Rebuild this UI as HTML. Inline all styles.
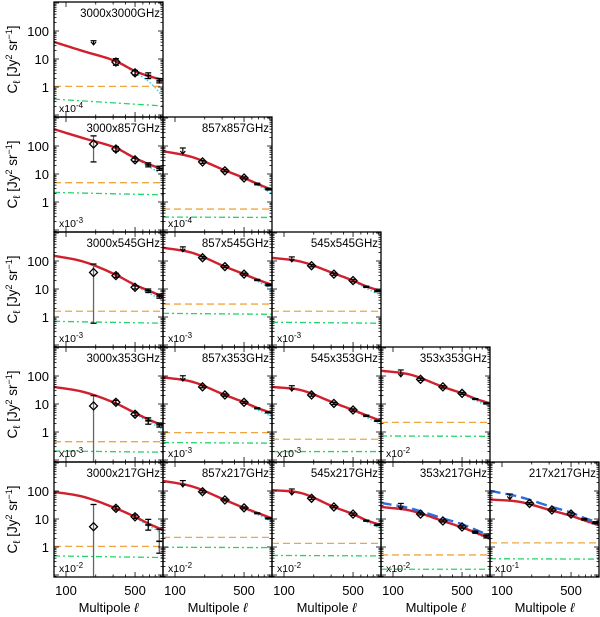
<!DOCTYPE html>
<html><head><meta charset="utf-8">
<style>
html,body{margin:0;padding:0;background:#fff;}
svg{display:block;font-family:"Liberation Sans",sans-serif;}
</style></head>
<body>
<svg id="chart" width="600" height="617" viewBox="0 0 600 617" xmlns="http://www.w3.org/2000/svg"></svg>
<script>
// ---- data ----
const modelEll = [75,150,320,500,700,960];
const pointEll = [120,190,320,500,680,880];
const panelNames = ["3000x3000GHz","3000x857GHz","857x857GHz","3000x545GHz","857x545GHz","545x545GHz","3000x353GHz","857x353GHz","545x353GHz","353x353GHz","3000x217GHz","857x217GHz","545x217GHz","353x217GHz","217x217GHz"];
const panelRow = [0,1,1,2,2,2,3,3,3,3,4,4,4,4,4];
const panelCol = [0,0,1,0,1,2,0,1,2,3,0,1,2,3,4];
const panelExp = ["-4","-3","-4","-3","-3","-3","-3","-3","-3","-2","-2","-2","-2","-2","-1"];
const totalModel = [
 [41,19,8.3,3.7,2.4,1.8],
 [400,190,85,37,22,14.5],
 [66,40,13.5,7.2,4.3,2.7],
 [155,95,32,14,8.5,5.3],
 [300,195,63,34,21,14],
 [131,94,36,20,12,8.5],
 [41,27,10.5,4.8,2.7,1.7],
 [90,62,21,11.5,7,4.7],
 [41,31,11,6.1,3.8,2.5],
 [155,112,41,24,15,10.5],
 [94,62,24,12,6.6,4],
 [230,145,48,25,16,10.5],
 [108,84,27,15,8.7,6.1],
 [27,20,8.5,5,3.2,2.0],
 [50,41,20,13,8.7,6.1]
];
const clusterModel = [
 [41,19,8.1,3.2,1.5,0.45],
 [400,190,85,37,18,9],
 [66,40,13.5,7,3.8,2.0],
 [155,95,32,13,7,3.8],
 [300,195,63,33,18,10],
 [131,94,36,19,10,6],
 [41,27,10.5,4.4,2.3,1.2],
 [90,62,21,11,6,3.5],
 [41,31,11,5.8,3.2,1.8],
 [155,112,41,23,13,8],
 [94,62,24,11,5.5,3],
 [230,145,48,24,14,8],
 [108,84,27,14,7.5,4.5],
 [27,20,8.5,4.8,2.9,1.8],
 [50,41,20,12.5,8,5.5]
];
const shotLevel = [1.05,4.9,0.56,1.6,2.9,1.6,0.45,0.95,0.55,2.2,1.05,2.2,1.35,0.52,1.4];
const greenStart = [0.37,2.2,0.29,0.7,1.35,0.65,0.21,0.42,0.2,0.72,0.48,0.98,0.5,0.16,0.38];
const greenEnd   = [0.21,1.8,0.28,0.6,1.25,0.6,0.19,0.4,0.2,0.7,0.42,0.95,0.48,0.16,0.37];
const blueModel = {13:[38,24,10.5,6.5,4,2.5], 14:[102,62,27,17,10.5,7.4]};
// point types: u = upper limit, d = diamond, b = error bar only, n = none
const ptType = [
 ["n","u","d","d","b","b"],["n","d","d","d","b","b"],["u","d","d","d","b","b"],
 ["n","d","d","d","b","b"],["u","d","d","d","b","b"],["u","d","d","d","b","b"],
 ["n","d","d","d","b","b"],["u","d","d","d","b","b"],["u","d","d","d","b","b"],["u","d","d","d","b","b"],
 ["n","d","d","d","b","b"],["u","d","d","d","b","b"],["u","d","d","d","b","b"],["u","d","d","d","b","b"],["u","d","d","d","b","b"]
];
const ptVal = [
 [0,45,7.8,3.2,2.6,1.65],[0,118,78,32,21,16],[85,27,13,7.2,4.4,2.9],
 [0,39,30,11.5,8.7,5.6],[320,131,63,34,21,14],[140,68,34,20,12,8.5],
 [0,8.5,11.5,4.3,2.5,1.8],[102,41,21,11.5,7,5],[45,21,10.5,6.1,3.8,2.5],[164,76,41,24,15,10.5],
 [0,5.3,24,12,6.1,1.6],[235,94,48,25,16,10.5],[118,55,27,15,8.7,6.1],[36,15,8.5,5.2,3.4,2.5],[78,36,21,15,9.8,7.4]
];
const ptLo = [
 [0,32,6,2.7,2.0,1.4],[0,27,65,28,18,13.5],[52,24,12,6.6,4.1,2.7],
 [0,0.6,26,10,7.5,4.7],[215,120,58,31,20,13],[94,62,31,18,11.4,8],
 [0,0.05,10,3.8,1.9,1.5],[66,38,19,10.5,6.7,4.8],[29,19,9.5,5.5,3.6,2.4],[94,70,37,22,14.5,10],
 [0,0.05,21,10.5,4,0.6],[140,86,44,23,15.4,10],[72,50,25,13.5,8.3,5.8],[22,14,7.8,4.7,3.1,2.1],[50,33,19,13.5,9.2,6.8]
];
const ptHi = [
 [0,45,10.3,3.9,3.2,2.0],[0,230,95,37,25,19],[85,30,14.5,7.9,4.7,3.1],
 [0,78,36,13,10,6.6],[320,143,69,37,22,15],[140,74,37,22,12.6,9],
 [0,20,13.5,5,3.2,2.1],[102,45,23,12.5,7.3,5.2],[45,23,11.5,6.7,4,2.6],[164,83,45,26,15.5,11],
 [0,33,28,14,9.7,4.3],[235,102,52,27,16.6,11],[118,60,30,16.5,9.1,6.4],[36,16.5,9.3,5.7,3.7,2.9],[78,39,23,16.5,10.4,8]
];
const yTickVals = [100,10,1];
const yTickLabels = ["100","10","1"];
const xTickVals = [100,500];
const xTickLabels = ["100","500"];

// ---- geometry ----
const NS="http://www.w3.org/2000/svg";
const svg=document.getElementById('chart');
const PW=109, PH=115, X0=54, Y0=2;
function mk(tag,attrs,parent){const e=document.createElementNS(NS,tag);for(const k in attrs)e.setAttribute(k,attrs[k]);(parent||svg).appendChild(e);return e;}
function panelLeft(c){return X0+PW*c;}
function panelTop(r){return Y0+PH*r;}
function xScale(ell,left){return left+12+42.9*Math.log(ell/100);}
function yScale(v,top){return top+29+(2-Math.log10(v))*28;}
function pathFrom(xs,ys){return xs.map((x,i)=>(i?'L':'M')+x.toFixed(2)+' '+ys[i].toFixed(2)).join(' ');}
// smooth log-log interpolation (monotone cubic in log space)
function curvePts(vals,left,top){
  const lx=modelEll.map(Math.log), ly=vals.map(Math.log), n=lx.length;
  const d=[],m=[];
  for(let i=0;i<n-1;i++) d.push((ly[i+1]-ly[i])/(lx[i+1]-lx[i]));
  m[0]=d[0]; m[n-1]=d[n-2];
  for(let i=1;i<n-1;i++) m[i]=(d[i-1]*d[i]<=0)?0:(d[i-1]+d[i])/2;
  const xs=[],ys=[];
  for(let i=0;i<n-1;i++){
    const h=lx[i+1]-lx[i];
    for(let s=0;s<12;s++){
      const t=s/12,t2=t*t,t3=t2*t;
      const Y=(2*t3-3*t2+1)*ly[i]+(t3-2*t2+t)*h*m[i]+(-2*t3+3*t2)*ly[i+1]+(t3-t2)*h*m[i+1];
      xs.push(xScale(Math.exp(lx[i]+t*h),left)); ys.push(yScale(Math.exp(Y),top));
    }
  }
  xs.push(xScale(modelEll[n-1],left)); ys.push(yScale(vals[n-1],top));
  return [xs,ys];
}

for(let p=0;p<panelNames.length;p++){
  const r=panelRow[p],c=panelCol[p],L=panelLeft(c),T=panelTop(r);
  const g=mk('g',{});
  
  
  const cp=mk('clipPath',{id:'clip'+p},g);
  mk('rect',{x:L,y:T,width:PW,height:PH},cp);
  const inner=mk('g',{'clip-path':'url(#clip'+p+')'},g);
  const sh=mk('line',{x1:L,x2:L+PW,y1:yScale(shotLevel[p],T),y2:yScale(shotLevel[p],T),stroke:'#f0a640','stroke-width':1.3,'stroke-dasharray':'7,4'},inner);
  
  
  const gr=mk('line',{x1:L,x2:L+PW,y1:yScale(greenStart[p],T),y2:yScale(greenEnd[p],T),stroke:'#22d46a','stroke-width':1.3,'stroke-dasharray':'6,3,2,3'},inner);
  
  
  let [cx,cy]=curvePts(clusterModel[p],L,T);
  const cl=mk('path',{d:pathFrom(cx,cy),fill:'none',stroke:'#30d2e6','stroke-width':1.4,'stroke-dasharray':'1.5,2'},inner);
  
  
  let [tx,ty]=curvePts(totalModel[p],L,T);
  const tl=mk('path',{d:pathFrom(tx,ty),fill:'none',stroke:'#d0202e','stroke-width':2.4},inner);
  
  
  if(blueModel[p]){
    let [bx,by]=curvePts(blueModel[p],L,T);
    const bl=mk('path',{d:pathFrom(bx,by),fill:'none',stroke:'#2a6ee0','stroke-width':2.4,'stroke-dasharray':'11,5'},inner);
    
    
  }
  for(let i=0;i<pointEll.length;i++){
    const t=ptType[p][i]; if(t==='n')continue;
    const x=xScale(pointEll[i],L);
    const pg=mk('g',{},inner);
    
    
    if(t==='u'){
      const y1=yScale(ptVal[p][i],T),y2=yScale(ptLo[p][i],T);
      mk('line',{x1:x-3,x2:x+3,y1:y1,y2:y1,stroke:'#000','stroke-width':1.2},pg);
      mk('line',{x1:x,x2:x,y1:y1,y2:y2,stroke:'#000','stroke-width':1.2},pg);
      mk('path',{d:`M${x-2.5} ${y2-3}L${x} ${y2}L${x+2.5} ${y2-3}`,fill:'none',stroke:'#000','stroke-width':1.2},pg);
    } else {
      const yh=yScale(ptHi[p][i],T),yl=yScale(ptLo[p][i],T),yv=yScale(ptVal[p][i],T);
      const big=(yl-yh)>20;
      mk('line',{x1:x,x2:x,y1:yh,y2:yl,stroke:big?'#666':'#000','stroke-width':1.3},pg);
      mk('line',{x1:x-3,x2:x+3,y1:yh,y2:yh,stroke:'#000','stroke-width':1.3},pg);
      mk('line',{x1:x-3,x2:x+3,y1:yl,y2:yl,stroke:'#000','stroke-width':1.3},pg);
      if(t==='b') mk('line',{x1:x-3,x2:x+3,y1:yv,y2:yv,stroke:'#000','stroke-width':1.6},pg);
      if(t==='d') mk('path',{d:`M${x} ${yv-4}L${x+4} ${yv}L${x} ${yv+4}L${x-4} ${yv}Z`,fill:'none',stroke:'#000','stroke-width':1.3},pg);
    }
  }
  for(let d=-2;d<=3;d++){for(let m=1;m<=9;m++){
    const v=m*Math.pow(10,d),y=yScale(v,T); if(y<T||y>T+PH)continue;
    const len=m===1?5:2.5;
    mk('line',{x1:L,x2:L+len,y1:y,y2:y,stroke:'#000','stroke-width':0.8},g);
    mk('line',{x1:L+PW-len,x2:L+PW,y1:y,y2:y,stroke:'#000','stroke-width':0.8},g);
  }}
  for(let e=100;e<=900;e+=100){
    const x=xScale(e,L); if(x<L||x>L+PW)continue;
    const len=(e===100||e===500)?5:2.5;
    mk('line',{x1:x,x2:x,y1:T+PH,y2:T+PH-len,stroke:'#000','stroke-width':0.8},g);
    mk('line',{x1:x,x2:x,y1:T,y2:T+len,stroke:'#000','stroke-width':0.8},g);
  }
  mk('rect',{x:L,y:T,width:PW,height:PH,fill:'none',stroke:'#000','stroke-width':1.3},g);
  const tt=mk('text',{x:L+PW-3,y:T+15,'text-anchor':'end','font-size':'11.5'},g);
  tt.textContent=panelNames[p];
  
  
  const ex=mk('text',{x:L+5,y:T+PH-5,'font-size':'10.5'},g);
  
  
  ex.innerHTML='x10<tspan dy="-4" font-size="8">'+panelExp[p]+'</tspan>';
}
for(let r=0;r<5;r++){
  const T=panelTop(r);
  for(let k=0;k<yTickVals.length;k++){
    const t=mk('text',{x:49,y:yScale(yTickVals[k],T)+5,'text-anchor':'end','font-size':'13'});
    t.textContent=yTickLabels[k];
    
    
  }
  const cy=T+PH/2;
  const yt=mk('text',{x:0,y:0,'text-anchor':'middle','font-size':'13.5',transform:`translate(17 ${cy}) rotate(-90)`});
  yt.innerHTML='C<tspan dy="3" font-size="10">ℓ</tspan><tspan dy="-3"> [Jy</tspan><tspan dy="-5" font-size="9">2</tspan><tspan dy="5"> sr</tspan><tspan dy="-5" font-size="9">−1</tspan><tspan dy="5">]</tspan>';
  
  
}
for(let c=0;c<5;c++){
  const L=panelLeft(c);
  for(let k=0;k<xTickVals.length;k++){
    const t=mk('text',{x:xScale(xTickVals[k],L),y:595,'text-anchor':'middle','font-size':'13'});
    t.textContent=xTickLabels[k];
    
    
  }
  const xt=mk('text',{x:L+PW/2,y:612,'text-anchor':'middle','font-size':'13'});
  xt.innerHTML='Multipole <tspan font-style="italic">ℓ</tspan>';
  
  
}
</script>
</body></html>
